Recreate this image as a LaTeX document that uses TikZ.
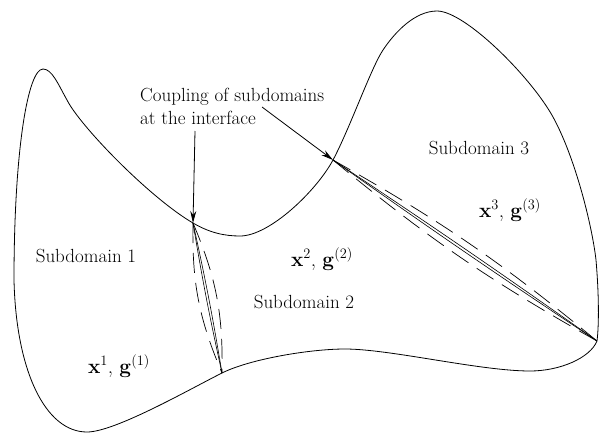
\documentclass[tikz,border=0pt]{standalone}
\usetikzlibrary{arrows.meta}
\begin{document}
\begin{tikzpicture}[x=1pt,y=-1pt,
  font=\fontsize{19}{22.5}\selectfont,
  outline/.style={line width=0.8pt, line join=round},
  iface/.style={line width=0.6pt},
  dashln/.style={line width=0.7pt, dash pattern=on 20pt off 10pt},
  callout/.style={line width=0.8pt, -{Stealth[length=12pt,width=6pt]}},
  lbl/.style={inner sep=0pt},
  vec/.style={inner sep=0pt, font=\fontsize{21}{24}\selectfont}]
\useasboundingbox (0,0) rectangle (599,434);
% named points of the outline
\coordinate (A) at (43,69);
\coordinate (P) at (67,100);
\coordinate (B) at (193,223);
\coordinate (V) at (240,236);
\coordinate (C) at (333,160);
\coordinate (Q) at (383,50);
\coordinate (D) at (437,11);
\coordinate (R) at (553,117);
\coordinate (S) at (596,260);
\coordinate (E) at (597,341);
\coordinate (T) at (530,371);
\coordinate (U) at (345,349);
\coordinate (F) at (222,373);
\coordinate (W) at (87,432);
\coordinate (L) at (14,280);
% outline of the whole domain
\draw[outline] (A)
  .. controls (52,69) and (58,84) .. (P)
  .. controls (80,126) and (150,198) .. (B)
  .. controls (210,233) and (225,236) .. (V)
  .. controls (270,236) and (317,190) .. (C)
  .. controls (350,128) and (371,68) .. (Q)
  .. controls (395,32) and (415,11) .. (D)
  .. controls (465,11) and (531,77) .. (R)
  .. controls (575,157) and (592,225) .. (S)
  .. controls (599,295) and (599,325) .. (E)
  .. controls (590,358) and (560,371) .. (T)
  .. controls (480,371) and (390,349) .. (U)
  .. controls (310,349) and (250,359) .. (F)
  .. controls (190,389) and (115,432) .. (W)
  .. controls (45,432) and (16,370) .. (L)
  .. controls (14,150) and (28,69) .. (A) -- cycle;
% interface 1
\draw[iface] (B) to[bend left=1.5] (F);
\draw[iface] (B) to[bend right=1.5] (F);
\draw[dashln] (B) to[bend right=12] (F);
\draw[dashln] (B) to[bend left=12] (F);
% interface 2
\draw[iface] (C) to[bend left=0.8] (E);
\draw[iface] (C) to[bend right=0.8] (E);
\draw[dashln] (C) to[bend left=5] (E);
\draw[dashln] (C) to[bend right=5] (E);
% callout text and arrows
\node[lbl, align=left, anchor=north west] (cpl) at (140,88)
  {Coupling of subdomains\\at the interface};
\coordinate (a1) at (195,131);
\coordinate (a2) at (262,107);
\draw[callout] (a1) -- (B);
\draw[callout] (a2) -- (C);
% labels
\node[lbl] (s1) at (86,256) {Subdomain 1};
\node[lbl] (s2) at (304,302) {Subdomain 2};
\node[lbl] (s3) at (479,148) {Subdomain 3};
\node[vec] (v1) at (119,366) {$\mathbf{x}^1$, $\mathbf{g}^{(1)}$};
\node[vec] (v2) at (322,259) {$\mathbf{x}^2$, $\mathbf{g}^{(2)}$};
\node[vec] (v3) at (510,210) {$\mathbf{x}^3$, $\mathbf{g}^{(3)}$};
\end{tikzpicture}
\end{document}
